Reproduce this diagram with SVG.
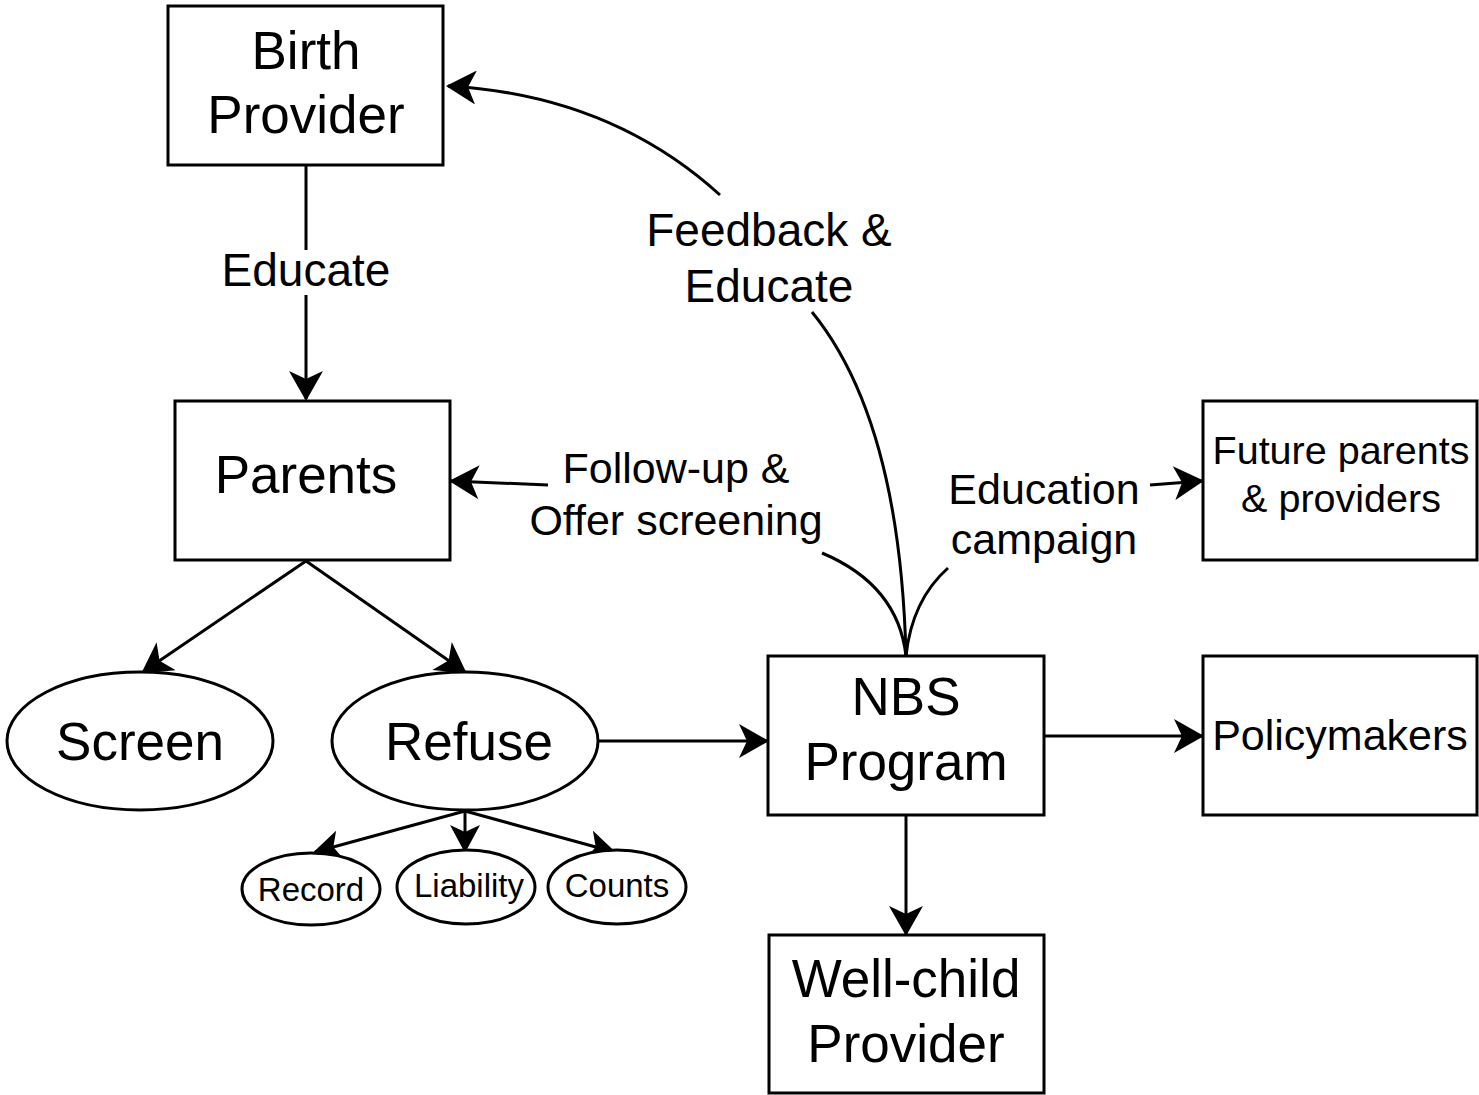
<svg xmlns="http://www.w3.org/2000/svg" width="1479" height="1095" viewBox="0 0 1479 1095">
<style>
.box{fill:#fff;stroke:#000;stroke-width:3}
.e{fill:none;stroke:#000;stroke-width:3}
text{font-family:"Liberation Sans",Arial,sans-serif;fill:#000;text-anchor:middle}
.big{font-size:53px}
.lbl{font-size:43px}
.lbl2{font-size:46px}
.mid{font-size:39.5px}
.sm{font-size:33px}
</style>
<defs>
<marker id="ah" markerUnits="userSpaceOnUse" markerWidth="32" markerHeight="34" viewBox="0 0 30 34" refX="28" refY="17" orient="auto">
<path d="M0,0 L30,17 L0,34 L8,17 Z" fill="#000"/>
</marker>
<marker id="ahs" markerUnits="userSpaceOnUse" markerWidth="28" markerHeight="30" viewBox="0 0 28 30" refX="26" refY="15" orient="auto">
<path d="M0,0 L28,15 L0,30 L7,15 Z" fill="#000"/>
</marker>
</defs>
<g id="connectors">
<path class="e" d="M306,165 L306,250"/>
<path class="e" d="M306,295 L306,399" marker-end="url(#ah)"/>
<path class="e" d="M306,561 L143,672" marker-end="url(#ah)"/>
<path class="e" d="M306,561 L465,672" marker-end="url(#ah)"/>
<path class="e" d="M598,741 L767,741" marker-end="url(#ah)"/>
<path class="e" d="M906,815 L906,934" marker-end="url(#ah)"/>
<path class="e" d="M1044,736 L1202,736" marker-end="url(#ah)"/>
<path class="e" d="M1150,485 L1202,481" marker-end="url(#ah)"/>
<path class="e" d="M548,485 L451,481" marker-end="url(#ah)"/>
<path class="e" d="M906,656 Q898,585 822,553"/>
<path class="e" d="M906,656 Q912,600 948,568"/>
<path class="e" d="M906,656 Q900,420 812,312"/>
<path class="e" d="M720,195 Q610,95 448,86" marker-end="url(#ah)"/>
<path class="e" d="M465,811 L315,852" marker-end="url(#ahs)"/>
<path class="e" d="M465,811 L465,851" marker-end="url(#ahs)"/>
<path class="e" d="M465,811 L614,852" marker-end="url(#ahs)"/>
<text class="lbl2" x="306" y="286">Educate</text>
<text class="lbl2" x="769" y="246">Feedback &amp;</text>
<text class="lbl2" x="769" y="302">Educate</text>
<text class="lbl" x="676" y="483">Follow-up &amp;</text>
<text class="lbl" x="676" y="535">Offer screening</text>
<text class="lbl" x="1044" y="504">Education</text>
<text class="lbl" x="1044" y="554">campaign</text>
</g>
<g id="birth-provider">
<rect class="box" x="168" y="6" width="275" height="159"/>
<text class="big" x="306" y="69">Birth</text>
<text class="big" x="306" y="133">Provider</text>
</g>
<g id="parents">
<rect class="box" x="175" y="401" width="275" height="159"/>
<text class="big" x="306" y="493">Parents</text>
</g>
<g id="screen">
<ellipse class="box" cx="140" cy="741" rx="133" ry="69"/>
<text class="big" x="140" y="760">Screen</text>
</g>
<g id="refuse">
<ellipse class="box" cx="465" cy="741" rx="133" ry="69"/>
<text class="big" x="469" y="760">Refuse</text>
</g>
<g id="record">
<ellipse class="box" cx="311" cy="889" rx="69" ry="36"/>
<text class="sm" x="311" y="901">Record</text>
</g>
<g id="liability">
<ellipse class="box" cx="466" cy="887" rx="69" ry="37"/>
<text class="sm" x="469" y="897">Liability</text>
</g>
<g id="counts">
<ellipse class="box" cx="617" cy="887" rx="69" ry="37"/>
<text class="sm" x="617" y="897">Counts</text>
</g>
<g id="nbs-program">
<rect class="box" x="768" y="656" width="276" height="159"/>
<text class="big" x="906" y="715">NBS</text>
<text class="big" x="906" y="780">Program</text>
</g>
<g id="well-child-provider">
<rect class="box" x="769" y="935" width="275" height="158"/>
<text class="big" x="906" y="997">Well-child</text>
<text class="big" x="906" y="1062">Provider</text>
</g>
<g id="future-parents">
<rect class="box" x="1203" y="401" width="274" height="159"/>
<text class="mid" x="1341" y="464">Future parents</text>
<text class="mid" x="1341" y="512">&amp; providers</text>
</g>
<g id="policymakers">
<rect class="box" x="1203" y="656" width="274" height="159"/>
<text class="lbl" x="1340" y="750">Policymakers</text>
</g>
</svg>
